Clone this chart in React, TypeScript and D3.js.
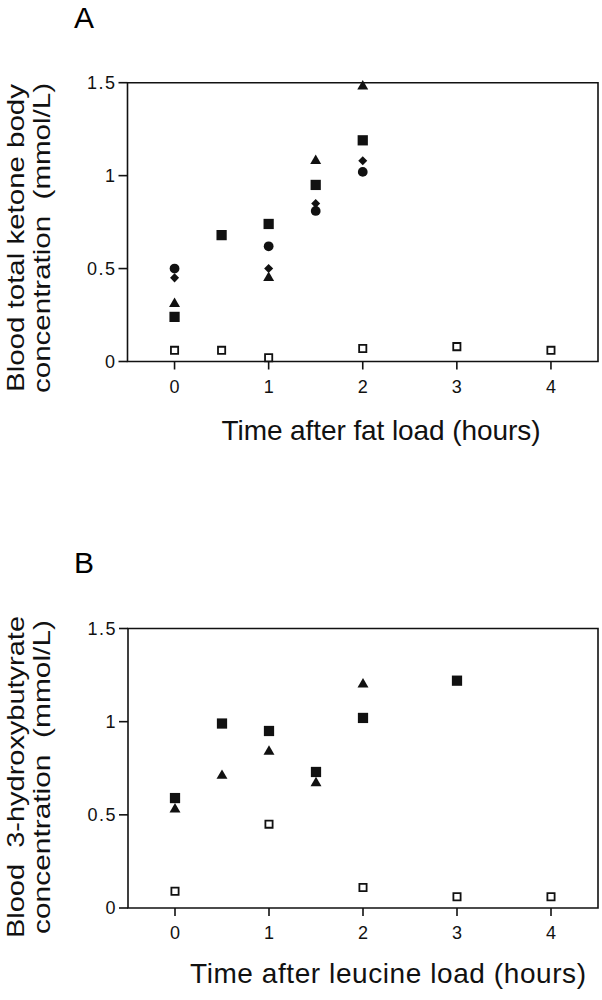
import React from "react";
import * as d3 from "d3";

// ---- Data ----
const xTicks = [0, 1, 2, 3, 4];
const yTicks = [0, 0.5, 1, 1.5];
const yTickLabels = ["0", "0.5", "1", "1.5"];

// Panel A: blood total ketone body after fat load
const fatSquareX = [0, 0.5, 1, 1.5, 2];
const fatSquareY = [0.24, 0.68, 0.74, 0.95, 1.19];
const fatCircleX = [0, 1, 1.5, 2];
const fatCircleY = [0.5, 0.62, 0.81, 1.02];
const fatDiamondX = [0, 1, 1.5, 2];
const fatDiamondY = [0.45, 0.5, 0.85, 1.08];
const fatTriangleX = [0, 1, 1.5, 2];
const fatTriangleY = [0.31, 0.45, 1.08, 1.48];
const fatControlX = [0, 0.5, 1, 2, 3, 4];
const fatControlY = [0.06, 0.06, 0.02, 0.07, 0.08, 0.06];

// Panel B: blood 3-hydroxybutyrate after leucine load
const leuSquareX = [0, 0.5, 1, 1.5, 2, 3];
const leuSquareY = [0.59, 0.99, 0.95, 0.73, 1.02, 1.22];
const leuTriangleX = [0, 0.5, 1, 1.5, 2];
const leuTriangleY = [0.53, 0.71, 0.84, 0.67, 1.2];
const leuControlX = [0, 1, 2, 3, 4];
const leuControlY = [0.09, 0.45, 0.11, 0.06, 0.06];

const FONT = "'Liberation Sans', Arial, Helvetica, sans-serif";

type Series = { xs: number[]; ys: number[]; kind: string };

const symPaths: Record<string, string> = {
  square: d3.symbol().type(d3.symbolSquare).size(105)() as string,
  circle: d3.symbol().type(d3.symbolCircle).size(75)() as string,
  diamond: d3.symbol().type(d3.symbolDiamond2).size(52)() as string,
  triangle: d3.symbol().type(d3.symbolTriangle).size(52)() as string,
  open: d3.symbol().type(d3.symbolSquare).size(52)() as string,
};

function Panel(props: {
  top: number;
  bottom: number;
  left: number;
  right: number;
  letter: string;
  letterY: number;
  yLabel1: string;
  yLabel2: string;
  yLabelCenter: number;
  yLabelLen1: number;
  yLabelLen2: number;
  xLabel: string;
  xLabelCenter: number;
  xLabelLen: number;
  xLabelY: number;
  series: Series[];
}) {
  const { top, bottom, left, right } = props;
  const x = d3.scaleLinear().domain([-0.5, 4.5]).range([left, right]);
  const y = d3.scaleLinear().domain([0, 1.5]).range([bottom, top]);
  const sw = 1.6;
  return (
    <g>
      <text x={74} y={props.letterY} fontFamily={FONT} fontSize={30}>
        {props.letter}
      </text>
      {/* frame */}
      <path
        d={`M${left},${top}H${right}V${bottom}H${left}Z`}
        fill="none"
        stroke="#111"
        strokeWidth={sw}
      />
      {/* y ticks */}
      {yTicks.map((t, i) => (
        <g key={"yt" + i}>
          <line x1={left - 9} x2={left} y1={y(t)} y2={y(t)} stroke="#111" strokeWidth={sw} />
          <text
            x={left - 11}
            y={y(t)}
            dy="0.36em"
            textAnchor="end"
            fontFamily={FONT}
            fontSize={18}
            letterSpacing={1.5}
            fill="#111"
          >
            {yTickLabels[i]}
          </text>
        </g>
      ))}
      {/* x ticks */}
      {xTicks.map((t, i) => (
        <g key={"xt" + i}>
          <line x1={x(t)} x2={x(t)} y1={bottom} y2={bottom + 8} stroke="#111" strokeWidth={sw} />
          <text
            x={x(t)}
            y={bottom + 31}
            textAnchor="middle"
            fontFamily={FONT}
            fontSize={18}
            fill="#111"
          >
            {String(t)}
          </text>
        </g>
      ))}
      {/* y label */}
      <g transform={`translate(24,${props.yLabelCenter}) rotate(-90)`}>
        <text
          textAnchor="middle"
          fontFamily={FONT}
          fontSize={24}
          textLength={props.yLabelLen1}
          lengthAdjust="spacingAndGlyphs"
          fill="#111"
          style={{ whiteSpace: "pre" }}
        >
          {props.yLabel1}
        </text>
      </g>
      <g transform={`translate(50,${props.yLabelCenter}) rotate(-90)`}>
        <text
          textAnchor="middle"
          fontFamily={FONT}
          fontSize={24}
          textLength={props.yLabelLen2}
          lengthAdjust="spacingAndGlyphs"
          fill="#111"
          style={{ whiteSpace: "pre" }}
        >
          {props.yLabel2}
        </text>
      </g>
      {/* x label */}
      <text
        x={props.xLabelCenter}
        y={props.xLabelY}
        textAnchor="middle"
        fontFamily={FONT}
        fontSize={28}
        textLength={props.xLabelLen}
        lengthAdjust="spacing"
        fill="#111"
      >
        {props.xLabel}
      </text>
      {/* points */}
      {props.series.map((s, si) =>
        s.xs.map((xv, i) => (
          <path
            key={si + "-" + i}
            d={symPaths[s.kind]}
            transform={`translate(${x(xv)},${y(s.ys[i])})`}
            fill={s.kind === "open" ? "#fff" : "#111"}
            stroke="#111"
            strokeWidth={s.kind === "open" ? 1.8 : 0}
          />
        ))
      )}
    </g>
  );
}

export default function App() {
  const seriesA: Series[] = [
    { xs: fatControlX, ys: fatControlY, kind: "open" },
    { xs: fatSquareX, ys: fatSquareY, kind: "square" },
    { xs: fatCircleX, ys: fatCircleY, kind: "circle" },
    { xs: fatDiamondX, ys: fatDiamondY, kind: "diamond" },
    { xs: fatTriangleX, ys: fatTriangleY, kind: "triangle" },
  ];
  const seriesB: Series[] = [
    { xs: leuControlX, ys: leuControlY, kind: "open" },
    { xs: leuSquareX, ys: leuSquareY, kind: "square" },
    { xs: leuTriangleX, ys: leuTriangleY, kind: "triangle" },
  ];
  return (
    <svg
      width={602}
      height={1000}
      style={{ position: "absolute", left: 0, top: 0, background: "#fff" }}
    >
      <rect width={602} height={1000} fill="#fff" />
      <Panel
        top={82.7}
        bottom={361.5}
        left={127.5}
        right={598}
        letter="A"
        letterY={28}
        yLabel1="Blood total ketone body"
        yLabel2="concentration  (mmol/L)"
        yLabelCenter={238}
        yLabelLen1={308}
        yLabelLen2={310}
        xLabel="Time after fat load (hours)"
        xLabelCenter={381}
        xLabelLen={319}
        xLabelY={440}
        series={seriesA}
      />
      <Panel
        top={628.5}
        bottom={908}
        left={128}
        right={598}
        letter="B"
        letterY={573}
        yLabel1="Blood  3-hydroxybutyrate"
        yLabel2="concentration  (mmol/L)"
        yLabelCenter={777}
        yLabelLen1={322}
        yLabelLen2={314}
        xLabel="Time after leucine load (hours)"
        xLabelCenter={388}
        xLabelLen={396}
        xLabelY={983}
        series={seriesB}
      />
    </svg>
  );
}
